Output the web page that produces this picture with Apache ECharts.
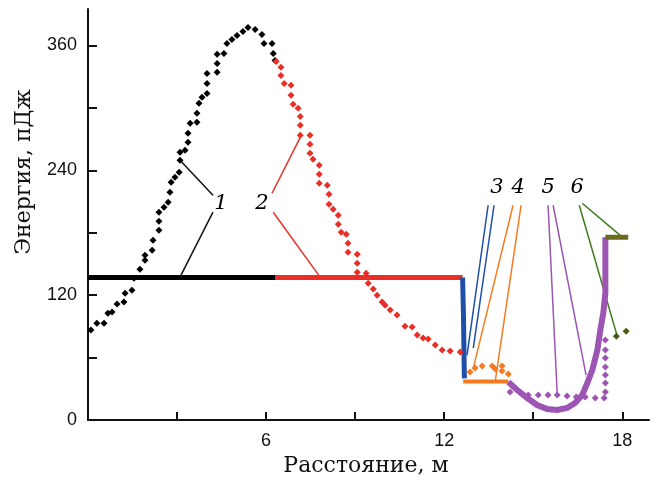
<!DOCTYPE html>
<html>
<head>
<meta charset="utf-8">
<script src="https://cdn.jsdelivr.net/npm/echarts@6/dist/echarts.min.js"></script>
<style>
  html, body { margin: 0; padding: 0; background: #fff; }
  #chart { width: 657px; height: 481px; }
</style>
</head>
<body>
<div id="chart"></div>
<script>
// Energy profile along the distance (m), energies in pJ

// Scattered measurements, curve 1 (black) and curve 2 (red)
const dots1 = [
  [0.10, 86.4], [0.30, 93.1], [0.54, 93.1], [0.67, 102.7], [0.81, 103.7],
  [0.98, 111.4], [1.21, 113.3], [1.25, 121.9], [1.48, 124.8], [1.55, 136.3],
  [1.75, 145.0], [1.92, 153.6], [1.92, 158.4], [2.16, 163.2], [2.19, 172.8],
  [2.39, 182.4], [2.39, 191.0], [2.39, 199.7], [2.56, 204.5], [2.70, 209.3],
  [2.76, 218.9], [2.80, 228.5], [2.93, 233.3], [3.07, 238.1], [3.10, 249.6],
  [3.10, 257.3], [3.27, 259.2], [3.37, 266.9], [3.37, 275.5], [3.44, 285.1],
  [3.67, 286.1], [3.67, 294.7], [3.74, 304.3], [3.84, 310.1], [4.01, 313.9],
  [4.01, 323.5], [4.01, 333.1], [4.35, 334.1], [4.35, 342.7], [4.35, 351.4],
  [4.58, 352.3], [4.68, 361.9], [4.85, 365.8], [5.02, 369.6], [5.22, 373.4],
  [5.39, 377.3], [5.63, 375.4], [5.86, 370.6], [5.93, 361.9], [6.20, 361.9],
  [6.24, 352.3], [6.30, 345.6]
];
const dots2 = [
  [6.34, 344.6], [6.50, 338.9], [6.50, 331.2], [6.61, 323.5], [6.84, 321.6],
  [6.84, 312.0], [6.91, 303.4], [7.08, 299.5], [7.15, 291.8], [7.15, 283.2],
  [7.15, 273.6], [7.48, 273.6], [7.48, 265.0], [7.48, 256.3], [7.58, 250.6],
  [7.79, 244.8], [7.79, 236.2], [7.79, 227.5], [8.06, 225.6], [8.12, 217.0],
  [8.12, 207.4], [8.26, 202.6], [8.43, 196.8], [8.43, 188.2], [8.53, 180.5],
  [8.70, 178.6], [8.76, 169.9], [8.76, 161.3], [9.07, 159.4], [9.07, 150.7],
  [9.07, 142.1], [9.37, 141.1], [9.44, 131.5], [9.61, 125.8], [9.74, 120.0],
  [9.91, 113.3], [10.01, 110.4], [10.18, 105.6], [10.41, 100.8], [10.68, 90.2],
  [10.92, 89.3], [11.09, 81.6], [11.29, 78.7], [11.46, 77.8], [11.70, 72.0],
  [11.93, 67.2], [12.20, 66.2], [12.54, 65.3]
];
const dots4 = [
  [12.87, 46.1], [13.04, 49.9], [13.28, 51.8], [13.62, 51.8], [13.72, 49.0],
  [13.95, 51.8], [13.95, 47.0], [14.16, 44.2]
];
const dots5 = [
  [14.22, 26.9], [14.83, 24.0], [15.17, 24.0], [15.50, 24.0], [15.81, 24.0],
  [16.14, 23.0], [16.45, 22.1], [16.75, 22.1], [17.09, 21.1], [17.39, 21.1],
  [17.43, 26.9], [17.43, 35.5], [17.43, 43.2], [17.43, 50.9], [17.43, 59.5],
  [17.43, 67.2], [17.43, 76.8]
];
const dots6 = [[17.80, 80.6], [18.13, 85.4]];

// Model levels (solid lines)
const level1 = [[0, 137], [6.30, 137]];
const level2 = [[6.30, 137], [12.62, 137]];
const level3 = [[12.62, 137], [12.65, 100], [12.68, 40]];
const level4 = [[12.64, 37], [14.16, 37]];
const level5 = [
  [14.16, 36.5], [14.46, 28.8], [14.80, 21.1], [15.13, 14.4], [15.47, 10.6],
  [15.81, 9.6], [16.14, 11.5], [16.41, 16.3], [16.65, 24.0], [16.82, 35.5],
  [16.99, 48.0], [17.16, 67.2], [17.26, 86.4], [17.36, 102.7], [17.43, 121.9],
  [17.43, 175.7]
];
const level6 = [[17.43, 175.7], [18.20, 175.7]];

// Curve numbers and their leader lines
const curveLabels = [
  { text: '1', pos: [4.48, 208.3] },
  { text: '2', pos: [5.86, 208.3] },
  { text: '3', pos: [13.78, 223.7] },
  { text: '4', pos: [14.49, 223.7] },
  { text: '5', pos: [15.50, 223.7] },
  { text: '6', pos: [16.48, 223.7] }
];
const leaders = [
  { color: '#111111', pts: [[3.10, 249.6], [4.21, 216.0]] },
  { color: '#111111', pts: [[4.21, 199.7], [3.10, 137.3]] },
  { color: '#e8302a', pts: [[7.15, 271.7], [6.20, 217.9]] },
  { color: '#e8302a', pts: [[6.24, 199.7], [7.82, 137.3]] },
  { color: '#1f4fa8', pts: [[13.48, 206.4], [12.77, 62.4]] },
  { color: '#1f4fa8', pts: [[13.68, 206.4], [12.98, 69.1]] },
  { color: '#f47b20', pts: [[14.32, 206.4], [12.98, 49.9]] },
  { color: '#f47b20', pts: [[14.59, 206.4], [13.72, 37.4]] },
  { color: '#9d55b3', pts: [[15.50, 206.4], [15.81, 24.0]] },
  { color: '#9d55b3', pts: [[15.67, 206.4], [16.78, 43.2]] },
  { color: '#3f7a1c', pts: [[16.55, 206.4], [17.83, 80.6]] },
  { color: '#3f7a1c', pts: [[16.65, 208.3], [18.00, 175.7]] }
];

const xTicks = [3, 6, 9, 12, 15, 18];
const xLabels = [6, 12, 18];
const yTicks = [60, 120, 180, 240, 300, 360];
const yLabels = [0, 120, 240, 360];

const chart = echarts.init(document.getElementById('chart'), null, { renderer: 'canvas' });

function solid(data, color, width) {
  return {
    type: 'line', data: data, showSymbol: false, symbol: 'none',
    lineStyle: { color: color, width: width, cap: 'butt', join: 'miter' },
    z: 3, silent: true
  };
}
function dots(data, color, size) {
  return {
    type: 'scatter', data: data, symbol: 'diamond', symbolSize: size,
    itemStyle: { color: color, opacity: 1 }, z: 5, silent: true
  };
}

const series = [];
leaders.forEach(l => series.push({
  type: 'line', data: l.pts, showSymbol: false, symbol: 'none',
  lineStyle: { color: l.color, width: 1.5 }, z: 2, silent: true
}));
series.push(solid(level1, '#000000', 5));
series.push(solid(level2, '#ea2f27', 5));
series.push(solid(level3, '#1f4fa8', 5));
series.push(solid(level4, '#f47b20', 4));
series.push(solid(level5, '#9d55b3', 6));
series.push(solid(level6, '#6b6b20', 5));
series.push(dots(dots1, '#000000', 7));
series.push(dots(dots2, '#ea2f27', 7));
series.push(dots(dots4, '#f47b20', 7));
series.push(dots(dots5, '#9d55b3', 7));
series.push(dots(dots6, '#4a5a12', 7));
series.push({
  type: 'scatter', symbolSize: 0, silent: true, z: 6,
  itemStyle: { opacity: 1 },
  data: curveLabels.map(c => ({ value: c.pos, name: c.text })),
  label: {
    show: true, position: 'inside', formatter: p => p.name, opacity: 1,
    fontFamily: 'DejaVu Serif', fontStyle: 'italic', fontSize: 21, color: '#000'
  }
});

const axisFont = { fontFamily: 'Liberation Sans', fontSize: 18, color: '#111' };

chart.setOption({
  animation: false,
  backgroundColor: '#ffffff',
  grid: { left: 88, right: 8, top: 9, bottom: 61, containLabel: false },
  xAxis: {
    type: 'value', min: 0, max: 18.9, interval: 3,
    axisLine: { show: true, lineStyle: { color: '#111', width: 2 } },
    axisTick: { show: true, inside: true, length: 8, customValues: xTicks, lineStyle: { color: '#111', width: 2 } },
    axisLabel: Object.assign({ margin: 12, customValues: xLabels }, axisFont),
    splitLine: { show: false }
  },
  yAxis: {
    type: 'value', min: 0, max: 395, interval: 60,
    axisLine: { show: true, lineStyle: { color: '#111', width: 2 } },
    axisTick: { show: true, inside: true, length: 9, customValues: yTicks, lineStyle: { color: '#111', width: 2 } },
    axisLabel: Object.assign({ margin: 11, customValues: yLabels }, axisFont),
    splitLine: { show: false }
  },
  graphic: [
    {
      type: 'text', x: 366, y: 466,
      style: {
        text: 'Расстояние, м', fontFamily: 'DejaVu Serif', fontSize: 22,
        fill: '#111', align: 'center', verticalAlign: 'middle'
      }
    },
    {
      type: 'text', x: 24, y: 172, rotation: Math.PI / 2,
      style: {
        text: 'Энергия, пДж', fontFamily: 'DejaVu Serif', fontSize: 22,
        fill: '#111', align: 'center', verticalAlign: 'middle'
      }
    }
  ],
  series: series
});
</script>
</body>
</html>
